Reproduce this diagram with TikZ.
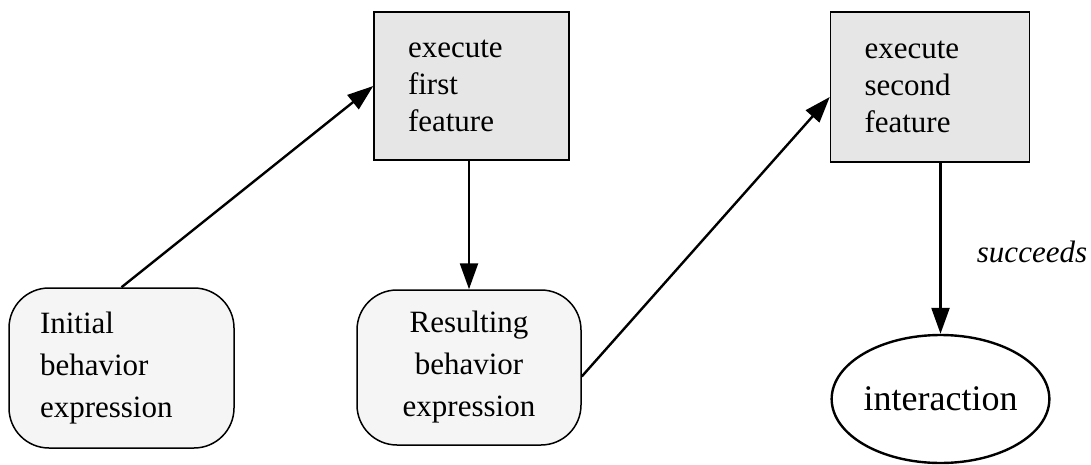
\documentclass[tikz,border=0pt]{standalone}
\usepackage{fontspec}
\setmainfont{Liberation Serif}
\usetikzlibrary{arrows.meta,shapes.geometric}
\definecolor{boxgray}{HTML}{E6E6E6}
\definecolor{softgray}{HTML}{F5F5F5}
\tikzset{
  featbox/.style={draw, line width=1.5pt, fill=boxgray, rectangle, align=left,
    text width=127pt, inner xsep=34pt, inner ysep=0pt, minimum height=148pt,
    font=\fontsize{31}{37}\selectfont},
  exprbox/.style={draw, line width=1.5pt, fill=softgray, rectangle, rounded corners=40pt,
    inner sep=0pt, font=\fontsize{31}{42}\selectfont},
  arr/.style={line width=2.4pt, -{Triangle[length=26pt,width=18pt]}},
}
\begin{document}
\begin{tikzpicture}[x=1pt,y=-1pt]
\useasboundingbox (0,0) rectangle (1091,465);
\node[featbox] (b1) at (471.5,86) {execute\\first\\feature};
\node[featbox, text width=131pt, minimum height=150pt] (b2) at (930,87) {execute\\second\\feature};
\node[exprbox, align=left, text width=163pt, inner xsep=31pt, minimum height=160pt] (init) at (121.5,368) {Initial\\behavior\\expression};
\node[exprbox, align=center, minimum width=224pt, minimum height=155pt] (res) at (469,367.5) {Resulting\\behavior\\expression};
\node[draw, line width=2.4pt, ellipse, minimum width=207pt, minimum height=128pt, inner sep=0pt, font=\fontsize{36}{40}\selectfont] (ell) at (940.5,399) {interaction};
\node[font=\fontsize{31}{35}\selectfont\itshape] (lab) at (1032,252) {succeeds};
\draw[arr] (init.north) -- (b1.west);
\draw[arr] (res.north |- b1.south) -- (res.north);
\draw[arr] ([yshift=-9pt]res.east) -- ([yshift=-10pt]b2.west);
\draw[arr] (ell.north |- b2.south) -- (ell.north);
\end{tikzpicture}
\end{document}
